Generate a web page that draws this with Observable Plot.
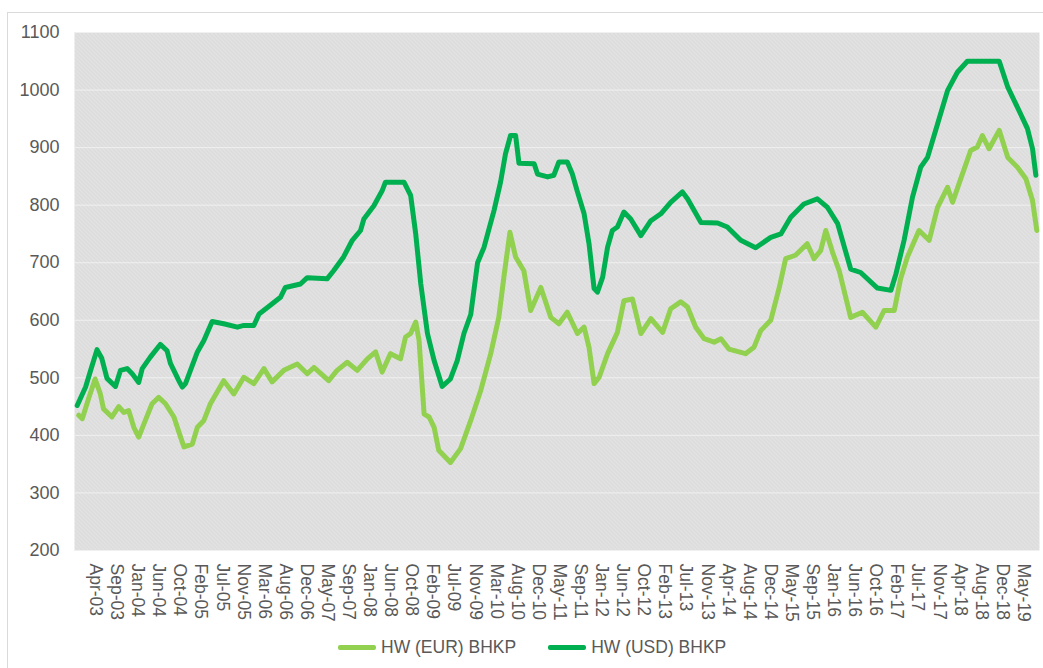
<!DOCTYPE html>
<html>
<head>
<meta charset="utf-8">
<script src="https://cdn.jsdelivr.net/npm/d3@7"></script>
<script src="https://cdn.jsdelivr.net/npm/@observablehq/plot@0.6"></script>
<style>
  body { margin: 0; background: #fff; font-family: "Liberation Sans", Arial, sans-serif; }
  #wrap { position: relative; width: 1043px; height: 668px; overflow: hidden; background: #fff; }
  #border { position: absolute; left: 7px; top: 12px; width: 1100px; height: 700px; border: 1px solid #dadada; box-sizing: border-box; }
  #chart { position: absolute; left: 0; top: 0; }
  #legend { position: absolute; top: 637px; left: 338px; display: flex; align-items: center; font-size: 17.5px; color: #595959; white-space: nowrap; }
  .item { display: flex; align-items: center; }
  .sw { width: 38px; height: 5px; border-radius: 2px; margin-right: 5px; }
</style>
</head>
<body>
<div id="wrap">
  <div id="border"></div>
  <div id="chart"></div>
  <div id="legend"></div>
</div>
<script>
// ---- Data ----
const seriesNames = ["HW (EUR) BHKP", "HW (USD) BHKP"];
const seriesColors = ["#92d050", "#00b050"];

const eurDates = ["2003-01-13","2003-02-04","2003-03-18","2003-04-26","2003-05-29","2003-06-18","2003-08-10","2003-09-22","2003-10-24","2003-11-24","2003-12-26","2004-01-26","2004-02-28","2004-04-19","2004-05-31","2004-07-13","2004-09-04","2004-10-16","2004-11-06","2004-12-29","2005-01-30","2005-03-12","2005-04-22","2005-07-15","2005-09-17","2005-11-19","2006-01-21","2006-03-26","2006-05-16","2006-07-29","2006-10-22","2006-12-24","2007-02-04","2007-05-08","2007-06-30","2007-09-02","2007-11-04","2008-01-07","2008-02-28","2008-04-09","2008-06-01","2008-08-03","2008-09-04","2008-10-06","2008-11-07","2008-11-28","2008-12-30","2009-01-30","2009-03-03","2009-04-01","2009-06-14","2009-08-17","2009-10-20","2009-12-22","2010-02-23","2010-04-15","2010-05-17","2010-06-24","2010-07-30","2010-09-20","2010-11-02","2011-01-05","2011-03-09","2011-04-29","2011-06-21","2011-08-24","2011-10-05","2011-11-05","2011-12-07","2012-01-08","2012-03-01","2012-05-02","2012-06-12","2012-08-05","2012-09-27","2012-11-29","2013-02-11","2013-04-03","2013-06-05","2013-07-18","2013-09-08","2013-10-31","2014-01-02","2014-02-14","2014-04-05","2014-07-19","2014-09-10","2014-10-23","2014-12-25","2015-02-17","2015-03-29","2015-05-30","2015-08-12","2015-09-24","2015-11-05","2015-12-07","2016-01-19","2016-03-01","2016-05-12","2016-07-25","2016-10-18","2016-12-09","2017-02-11","2017-03-23","2017-05-05","2017-07-17","2017-09-19","2017-11-11","2018-01-13","2018-02-14","2018-03-26","2018-06-08","2018-07-20","2018-08-21","2018-10-02","2018-12-05","2019-01-28","2019-03-30","2019-05-22","2019-07-03","2019-07-30"];
const eurValues = [435,429,466,498,472,446,432,450,440,443,414,397,420,455,466,455,432,397,380,385,414,426,455,495,472,501,490,516,493,513,524,507,518,495,513,527,513,533,545,510,542,533,571,577,597,565,437,432,414,374,353,377,426,478,542,605,675,753,710,686,617,657,605,594,614,577,588,553,490,501,542,579,634,637,577,603,579,620,632,623,588,568,562,568,550,542,553,582,600,657,707,713,733,707,721,756,718,686,605,614,588,617,617,672,710,756,739,796,831,805,837,895,901,921,898,930,883,866,846,808,756];

const usdDates = ["2003-01-03","2003-02-25","2003-03-29","2003-05-08","2003-06-07","2003-07-10","2003-09-01","2003-10-03","2003-11-14","2003-12-16","2004-01-26","2004-02-17","2004-04-08","2004-06-10","2004-07-23","2004-08-13","2004-10-05","2004-10-27","2004-11-16","2005-01-30","2005-03-12","2005-05-03","2005-07-15","2005-10-09","2005-11-19","2006-01-21","2006-02-23","2006-05-05","2006-07-08","2006-08-08","2006-11-11","2006-12-24","2007-04-28","2007-06-08","2007-08-10","2007-10-04","2007-11-25","2007-12-16","2008-02-17","2008-04-09","2008-04-30","2008-08-25","2008-10-06","2008-11-07","2008-12-09","2009-01-20","2009-03-03","2009-04-23","2009-06-14","2009-07-27","2009-09-07","2009-10-20","2009-12-02","2010-01-12","2010-03-16","2010-04-26","2010-05-27","2010-06-28","2010-07-30","2010-08-20","2010-11-24","2010-12-15","2011-02-17","2011-03-28","2011-04-29","2011-06-21","2011-07-23","2011-08-24","2011-10-05","2011-11-05","2011-12-07","2011-12-28","2012-01-30","2012-03-01","2012-03-31","2012-05-02","2012-06-12","2012-07-25","2012-09-27","2012-11-29","2013-01-31","2013-04-03","2013-06-16","2013-07-18","2013-10-11","2014-01-24","2014-03-26","2014-06-19","2014-09-21","2014-12-25","2015-02-27","2015-04-30","2015-07-22","2015-10-15","2015-12-18","2016-02-20","2016-05-12","2016-07-14","2016-10-28","2017-01-21","2017-02-22","2017-04-14","2017-06-06","2017-07-28","2017-09-09","2017-11-11","2018-01-13","2018-03-16","2018-05-18","2018-12-05","2019-01-28","2019-03-30","2019-06-01","2019-07-03","2019-07-24"];
const usdValues = [452,484,513,549,534,499,485,513,516,507,492,516,536,558,547,525,495,484,490,545,565,598,594,588,591,591,611,626,640,657,663,674,672,686,710,739,756,776,799,825,840,840,817,750,663,577,530,485,498,530,577,610,700,727,791,840,889,921,921,873,872,854,849,852,875,875,854,823,785,733,655,649,675,727,756,762,788,776,747,773,785,805,823,811,770,769,762,739,726,744,750,779,802,811,796,768,689,683,656,652,681,739,814,866,883,941,999,1031,1050,1050,1005,970,933,898,852];

const yTicks = [200, 300, 400, 500, 600, 700, 800, 900, 1000, 1100];
const xTickLabels = ["Apr-03","Sep-03","Jan-04","Jun-04","Oct-04","Feb-05","Jul-05","Nov-05","Mar-06","Aug-06","Dec-06","May-07","Sep-07","Jan-08","Jun-08","Oct-08","Feb-09","Jul-09","Nov-09","Mar-10","Aug-10","Dec-10","May-11","Sep-11","Jan-12","Jun-12","Oct-12","Feb-13","Jul-13","Nov-13","Apr-14","Aug-14","Dec-14","May-15","Sep-15","Jan-16","Jun-16","Oct-16","Feb-17","Jul-17","Nov-17","Apr-18","Aug-18","Dec-18","May-19"];
// category axis: one label every 19 weekly categories, first at this week
const firstLabelWeek = "2003-04-29";
const weeksPerLabel = 19;
const xDomain = ["2002-12-17", "2019-08-16"];

// ---- Build tables ----
const eur = eurDates.map((d, i) => ({date: new Date(d), value: eurValues[i]}));
const usd = usdDates.map((d, i) => ({date: new Date(d), value: usdValues[i]}));
const tickDates = xTickLabels.map((_, i) => d3.utcWeek.offset(new Date(firstLabelWeek), weeksPerLabel * i));
const labelByTime = new Map(tickDates.map((d, i) => [+d, xTickLabels[i]]));

const plot = Plot.plot({
  width: 1043,
  height: 630,
  marginLeft: 74,
  marginRight: 4,
  marginTop: 32,
  marginBottom: 80,
  x: {type: "utc", domain: xDomain.map(d => new Date(d))},
  y: {domain: [200, 1100]},
  style: {fontFamily: '"Liberation Sans", Arial, sans-serif', fontSize: "17px", color: "#595959", background: "transparent", overflow: "visible"},
  marks: [
    Plot.frame({fill: "url(#hatch)", stroke: null}),
    Plot.gridY(yTicks, {stroke: "#f0f0f0", strokeOpacity: 1, strokeWidth: 1}),
    Plot.axisY(yTicks, {tickSize: 0, tickPadding: 15, label: null, fill: "#595959", fontSize: 18, tickFormat: d => String(d)}),
    Plot.axisX(tickDates, {tickSize: 0, tickPadding: 13, tickRotate: 90, textAnchor: "start", lineAnchor: "middle",
      tickFormat: d => labelByTime.get(+d), label: null, fill: "#595959", fontSize: 17.5}),
    Plot.lineY(eur, {x: "date", y: "value", stroke: seriesColors[0], strokeWidth: 5, strokeLinejoin: "round", strokeLinecap: "round"}),
    Plot.lineY(usd, {x: "date", y: "value", stroke: seriesColors[1], strokeWidth: 5, strokeLinejoin: "round", strokeLinecap: "round"})
  ]
});

// hatch pattern for the plot background
const ns = "http://www.w3.org/2000/svg";
const defs = document.createElementNS(ns, "defs");
defs.innerHTML = '<pattern id="hatch" patternUnits="userSpaceOnUse" width="4" height="4">' +
  '<rect width="4" height="4" fill="#e2e2e2"></rect>' +
  '<path d="M0,0L4,4M-1,3L1,5M3,-1L5,1" stroke="#d6d6d6" stroke-width="1"></path></pattern>';
plot.insertBefore(defs, plot.firstChild);
document.getElementById("chart").appendChild(plot);

// legend
const legend = document.getElementById("legend");
seriesNames.forEach((name, i) => {
  const item = document.createElement("div");
  item.className = "item";
  if (i > 0) item.style.marginLeft = "32px";
  const sw = document.createElement("div");
  sw.className = "sw";
  sw.style.background = seriesColors[i];
  const t = document.createElement("span");
  t.textContent = name;
  item.appendChild(sw);
  item.appendChild(t);
  legend.appendChild(item);
});
</script>
</body>
</html>
